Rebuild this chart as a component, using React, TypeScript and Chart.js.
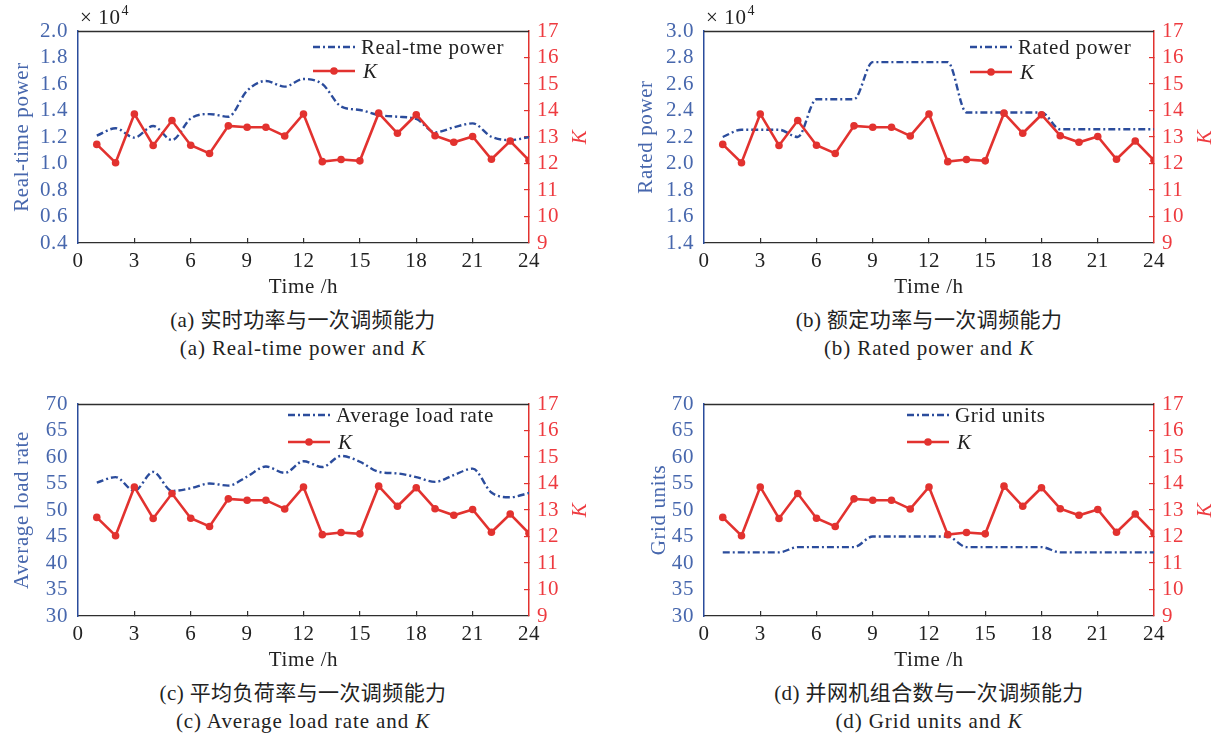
import React, { useEffect, useRef } from "react";
import { Chart, registerables } from "chart.js";

Chart.register(...registerables);

// ---------------- data ----------------
const HOURS = [1, 2, 3, 4, 5, 6, 7, 8, 9, 10, 11, 12, 13, 14, 15, 16, 17, 18, 19, 20, 21, 22, 23, 24];
const X_TICKS = [0, 3, 6, 9, 12, 15, 18, 21, 24];

const K_VALUES = [12.72, 12.03, 13.87, 12.68, 13.62, 12.69, 12.38, 13.42, 13.37, 13.37, 13.04, 13.87, 12.07, 12.15, 12.1, 13.9, 13.14, 13.84, 13.05, 12.8, 13.02, 12.16, 12.85, 12.12];
const REAL_TIME_POWER = [1.21, 1.266, 1.195, 1.283, 1.177, 1.34, 1.373, 1.353, 1.55, 1.623, 1.58, 1.638, 1.6, 1.43, 1.404, 1.366, 1.353, 1.336, 1.235, 1.273, 1.303, 1.202, 1.177, 1.198];
const RATED_POWER = [2.2, 2.255, 2.255, 2.255, 2.2, 2.485, 2.485, 2.485, 2.765, 2.765, 2.765, 2.765, 2.765, 2.385, 2.385, 2.385, 2.385, 2.385, 2.258, 2.258, 2.258, 2.258, 2.258, 2.258];
const AVG_LOAD_RATE = [55.15, 56.2, 53.6, 57.2, 53.6, 54.1, 55.0, 54.6, 56.3, 58.2, 57.0, 59.2, 58.1, 60.2, 59.1, 57.2, 56.9, 56.2, 55.3, 56.6, 57.8, 53.3, 52.4, 53.2];
const GRID_UNITS = [42, 42, 42, 42, 43, 43, 43, 43, 45, 45, 45, 45, 45, 43, 43, 43, 43, 43, 42, 42, 42, 42, 42, 42];

const K_TICKS = [9, 10, 11, 12, 13, 14, 15, 16, 17];
const REAL_POWER_TICKS = [0.4, 0.6, 0.8, 1.0, 1.2, 1.4, 1.6, 1.8, 2.0];
const RATED_POWER_TICKS = [1.4, 1.6, 1.8, 2.0, 2.2, 2.4, 2.6, 2.8, 3.0];
const PERCENT_TICKS = [30, 35, 40, 45, 50, 55, 60, 65, 70];

// ---------------- styles ----------------
const SERIF = "'Liberation Serif', 'Times New Roman', serif";
const BLUE_LINE = "#2b4c9c";
const BLUE_TEXT = "#4767ad";
const RED = "#e2322f";
const RED_TEXT = "#ee3a3f";
const DARK = "#2e2e2e";
const TEXT = "#222222";
const FS = 21;

type Panel = {
  left: number;
  top: number;
  leftWidth: number;
  rightWidth: number;
  series: number[];
  seriesLabel: string;
  leftTicks: number[];
  decimals: number;
  leftTitle: string;
  leftTitleX: number;
  rightTitleX: number;
  legendX: number;
  legendY1: number;
  legendY2: number;
  sci: boolean;
  captionZh: string;
  captionEn: string;
  captionCenter: number;
  captionTop: number;
};

const PANELS: Panel[] = [
  {
    left: 0, top: 0, leftWidth: 78, rightWidth: 80,
    series: REAL_TIME_POWER, seriesLabel: "Real-tme power", leftTicks: REAL_POWER_TICKS, decimals: 1,
    leftTitle: "Real-time power", leftTitleX: 28, rightTitleX: 586,
    legendX: 313, legendY1: 47, legendY2: 71, sci: true,
    captionZh: "(a) 实时功率与一次调频能力", captionEn: "(a) Real-time power and ", captionCenter: 303, captionTop: 306,
  },
  {
    left: 609, top: 0, leftWidth: 95, rightWidth: 64,
    series: RATED_POWER, seriesLabel: "Rated power", leftTicks: RATED_POWER_TICKS, decimals: 1,
    leftTitle: "Rated power", leftTitleX: 43, rightTitleX: 602,
    legendX: 361, legendY1: 47, legendY2: 72, sci: true,
    captionZh: "(b) 额定功率与一次调频能力", captionEn: "(b) Rated power and ", captionCenter: 929, captionTop: 306,
  },
  {
    left: 0, top: 373, leftWidth: 78, rightWidth: 80,
    series: AVG_LOAD_RATE, seriesLabel: "Average load rate", leftTicks: PERCENT_TICKS, decimals: 0,
    leftTitle: "Average load rate", leftTitleX: 28, rightTitleX: 586,
    legendX: 288, legendY1: 42, legendY2: 69, sci: false,
    captionZh: "(c) 平均负荷率与一次调频能力", captionEn: "(c) Average load rate and ", captionCenter: 303, captionTop: 679,
  },
  {
    left: 609, top: 373, leftWidth: 95, rightWidth: 64,
    series: GRID_UNITS, seriesLabel: "Grid units", leftTicks: PERCENT_TICKS, decimals: 0,
    leftTitle: "Grid units", leftTitleX: 56, rightTitleX: 602,
    legendX: 298, legendY1: 42, legendY2: 69, sci: false,
    captionZh: "(d) 并网机组合数与一次调频能力", captionEn: "(d) Grid units and ", captionCenter: 929, captionTop: 679,
  },
];

const CANVAS_W = 609;
const CANVAS_H = 300;
const DASH = [7, 3, 2, 3];

function makeFramePlugin(p: Panel) {
  return {
    id: "frame",
    beforeDraw(chart: any) {
      chart.ctx.letterSpacing = "0.6px";
    },
    afterDraw(chart: any) {
      const ctx = chart.ctx as CanvasRenderingContext2D;
      const a = chart.chartArea;
      const cy = (a.top + a.bottom) / 2;
      ctx.save();
      (ctx as any).letterSpacing = "0.6px";
      // top border
      ctx.strokeStyle = DARK;
      ctx.lineWidth = 1.3;
      ctx.beginPath();
      ctx.moveTo(a.left, a.top + 0.5);
      ctx.lineTo(a.right, a.top + 0.5);
      ctx.stroke();

      // left title
      ctx.save();
      ctx.translate(p.leftTitleX, cy);
      ctx.rotate(-Math.PI / 2);
      ctx.textAlign = "center";
      ctx.textBaseline = "alphabetic";
      ctx.fillStyle = BLUE_TEXT;
      ctx.font = `${FS}px ${SERIF}`;
      ctx.fillText(p.leftTitle, 0, 0);
      ctx.restore();

      // right title
      ctx.save();
      ctx.translate(p.rightTitleX, cy);
      ctx.rotate(-Math.PI / 2);
      ctx.textAlign = "center";
      ctx.textBaseline = "alphabetic";
      ctx.fillStyle = RED_TEXT;
      ctx.font = `italic ${FS}px ${SERIF}`;
      ctx.fillText("K", 0, 0);
      ctx.restore();

      // scientific multiplier
      if (p.sci) {
        ctx.fillStyle = TEXT;
        ctx.textAlign = "left";
        ctx.textBaseline = "alphabetic";
        ctx.font = `${FS}px ${SERIF}`;
        const x0 = a.left + 2;
        const t = "× 10";
        ctx.fillText(t, x0, 24);
        const w = ctx.measureText(t).width;
        ctx.font = `14px ${SERIF}`;
        ctx.fillText("4", x0 + w + 1, 15);
      }

      // legend
      const lx = p.legendX;
      const len = 42;
      ctx.strokeStyle = BLUE_LINE;
      ctx.lineWidth = 2.4;
      ctx.setLineDash(DASH);
      ctx.beginPath();
      ctx.moveTo(lx, p.legendY1);
      ctx.lineTo(lx + len, p.legendY1);
      ctx.stroke();
      ctx.setLineDash([]);
      ctx.strokeStyle = RED;
      ctx.lineWidth = 2.6;
      ctx.beginPath();
      ctx.moveTo(lx, p.legendY2);
      ctx.lineTo(lx + len, p.legendY2);
      ctx.stroke();
      ctx.fillStyle = RED;
      ctx.beginPath();
      ctx.arc(lx + len / 2, p.legendY2, 3.8, 0, Math.PI * 2);
      ctx.fill();

      ctx.fillStyle = TEXT;
      ctx.textAlign = "left";
      ctx.textBaseline = "middle";
      ctx.font = `${FS}px ${SERIF}`;
      ctx.fillText(p.seriesLabel, lx + len + 6, p.legendY1 + 1);
      ctx.font = `italic ${FS}px ${SERIF}`;
      ctx.fillText("K", lx + len + 8, p.legendY2 + 1);
      ctx.restore();
    },
  };
}

function PanelChart({ p }: { p: Panel }) {
  const ref = useRef<HTMLCanvasElement | null>(null);
  useEffect(() => {
    const canvas = ref.current;
    if (!canvas) return;
    const chart = new Chart(canvas, {
      type: "line",
      data: {
        datasets: [
          {
            label: "K",
            data: HOURS.map((h, i) => ({ x: h, y: K_VALUES[i] })),
            yAxisID: "yR",
            borderColor: RED,
            backgroundColor: RED,
            borderWidth: 2.6,
            pointRadius: 3.8,
            pointBorderWidth: 0,
            pointBackgroundColor: RED,
            tension: 0,
          },
          {
            label: p.seriesLabel,
            data: HOURS.map((h, i) => ({ x: h, y: p.series[i] })),
            yAxisID: "yL",
            borderColor: BLUE_LINE,
            borderWidth: 2.4,
            borderDash: DASH,
            pointRadius: 0,
            cubicInterpolationMode: "monotone",
          },
        ],
      } as any,
      options: {
        responsive: false,
        maintainAspectRatio: false,
        animation: false,
        events: [],
        layout: { padding: { top: 31, left: 0, right: 0, bottom: 0 } },
        font: { family: SERIF, size: FS },
        plugins: { legend: { display: false }, tooltip: { enabled: false } },
        scales: {
          x: {
            type: "linear",
            min: 0,
            max: 24,
            position: "bottom",
            afterBuildTicks: (s: any) => {
              s.ticks = X_TICKS.map((v) => ({ value: v }));
            },
            afterFit: (s: any) => {
              s.height = 57;
            },
            grid: {
              drawOnChartArea: false,
              tickLength: -5,
              lineWidth: 1.2,
              color: (c: any) => (c.tick && (c.tick.value === 0 || c.tick.value === 24) ? "rgba(0,0,0,0)" : DARK),
            },
            border: { color: DARK, width: 1.3 },
            ticks: {
              color: TEXT,
              font: { family: SERIF, size: FS },
              padding: 11,
              maxRotation: 0,
              autoSkip: false,
              callback: (v: any) => String(v),
            },
            title: {
              display: true,
              text: "Time /h",
              color: TEXT,
              font: { family: SERIF, size: FS },
              padding: { top: 0, bottom: 0 },
            },
          },
          yL: {
            type: "linear",
            position: "left",
            min: p.leftTicks[0],
            max: p.leftTicks[p.leftTicks.length - 1],
            afterBuildTicks: (s: any) => {
              s.ticks = p.leftTicks.map((v) => ({ value: v }));
            },
            afterFit: (s: any) => {
              s.width = p.leftWidth;
            },
            grid: { drawOnChartArea: false, drawTicks: false },
            border: { color: BLUE_LINE, width: 1.5 },
            ticks: {
              color: BLUE_TEXT,
              font: { family: SERIF, size: FS },
              padding: 10,
              autoSkip: false,
              callback: (v: any) => Number(v).toFixed(p.decimals),
            },
          },
          yR: {
            type: "linear",
            position: "right",
            min: 9,
            max: 17,
            afterBuildTicks: (s: any) => {
              s.ticks = K_TICKS.map((v) => ({ value: v }));
            },
            afterFit: (s: any) => {
              s.width = p.rightWidth;
            },
            grid: {
              drawOnChartArea: false,
              tickLength: -5,
              lineWidth: 1.2,
              color: (c: any) => (c.tick && (c.tick.value === 9 || c.tick.value === 17) ? "rgba(0,0,0,0)" : RED),
            },
            border: { color: RED, width: 1.5 },
            ticks: {
              color: RED_TEXT,
              font: { family: SERIF, size: FS },
              padding: 13,
              autoSkip: false,
              callback: (v: any) => String(v),
            },
          },
        },
      } as any,
      plugins: [makeFramePlugin(p)],
    });
    return () => chart.destroy();
  }, [p]);

  return (
    <canvas
      ref={ref}
      width={CANVAS_W}
      height={CANVAS_H}
      style={{ position: "absolute", left: p.left, top: p.top, width: CANVAS_W, height: CANVAS_H }}
    />
  );
}

function Caption({ p }: { p: Panel }) {
  const base: React.CSSProperties = {
    position: "absolute",
    left: p.captionCenter - 300,
    width: 600,
    textAlign: "center",
    fontFamily: "'Liberation Serif', 'Noto Sans CJK SC', serif",
    fontSize: FS,
    lineHeight: "28px",
    color: TEXT,
    whiteSpace: "nowrap",
  };
  return (
    <>
      <div style={{ ...base, top: p.captionTop, letterSpacing: "0.4px" }}>{p.captionZh}</div>
      <div style={{ ...base, top: p.captionTop + 28, letterSpacing: "0.9px" }}>
        {p.captionEn}
        <i>K</i>
      </div>
    </>
  );
}

export default function App() {
  return (
    <div
      style={{
        position: "fixed",
        left: 0,
        top: 0,
        width: 1218,
        height: 736,
        background: "#ffffff",
        overflow: "hidden",
      }}
    >
      {PANELS.map((p, i) => (
        <React.Fragment key={i}>
          <PanelChart p={p} />
          <Caption p={p} />
        </React.Fragment>
      ))}
    </div>
  );
}
